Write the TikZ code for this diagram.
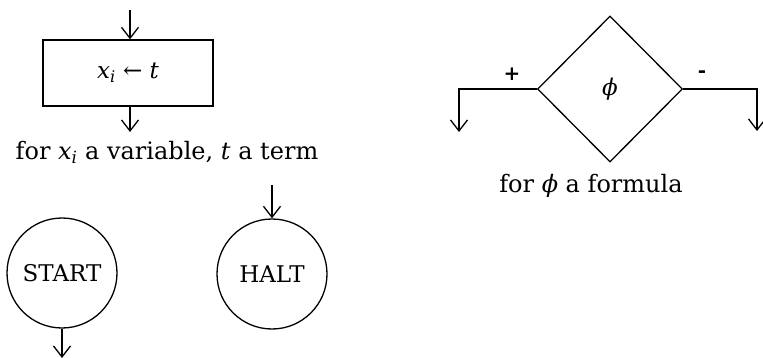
\documentclass[tikz,border=0pt]{standalone}
\usepackage{fontspec}
\setmainfont{DejaVu Serif}
\usetikzlibrary{arrows.meta,shapes.geometric}
\newcommand{\vx}{\textit{x}\textsubscript{\itshape i}}
\begin{document}
\begin{tikzpicture}[x=1pt,y=-1pt,
  line width=1.3pt,
  flow/.style={-{Straight Barb[length=11pt,width=17pt,line width=1.3pt]}},
  lbl/.style={font=\fontsize{24}{28}\selectfont, inner sep=0pt},
  smalllbl/.style={font=\fontsize{20}{24}\selectfont\bfseries, inner sep=0pt},
  procbox/.style={draw, minimum width=170pt, minimum height=66pt, inner sep=0pt, font=\fontsize{23}{27}\selectfont},
  termcirc/.style={draw, circle, minimum size=110pt, inner sep=0pt, font=\fontsize{23}{27}\selectfont},
  testdia/.style={draw, diamond, minimum width=145pt, minimum height=146pt, inner sep=0pt, font=\fontsize{23}{27}\selectfont}]
\useasboundingbox (0,0) rectangle (763,358);
% assignment
\node[procbox] (asg) at (128,73) {\vx\ ← \textit{t}};
\coordinate (asgin) at (130,10);
\coordinate (asgout) at (130,132);
\draw[flow] (asgin) -- (asg.north -| asgin);
\draw[flow] (asg.south -| asgout) -- (asgout);
\node[lbl] (asgtxt) at (167,152) {for \vx\ a variable, \textit{t} a term};
% start
\node[termcirc] (start) at (62,273) {START};
\coordinate (startout) at (62,358);
\draw[flow] (start.south) -- (startout);
% halt
\node[termcirc] (halt) at (272,274) {HALT};
\coordinate (haltin) at (272,185);
\draw[flow] (haltin) -- (halt.north);
% test
\node[testdia] (test) at (610,89) {\textit{ϕ}};
\coordinate (plusend) at (459,132);
\coordinate (minusend) at (757,131);
\draw[flow] (test.west) -- (plusend |- test.west) -- (plusend);
\draw[flow] (test.east) -- (minusend |- test.east) -- (minusend);
\node[smalllbl] (plus) at (512,74) {+};
\node[smalllbl] (minus) at (702,74) {-};
\node[lbl] (testtxt) at (591,186) {for \textit{ϕ} a formula};
\end{tikzpicture}
\end{document}
